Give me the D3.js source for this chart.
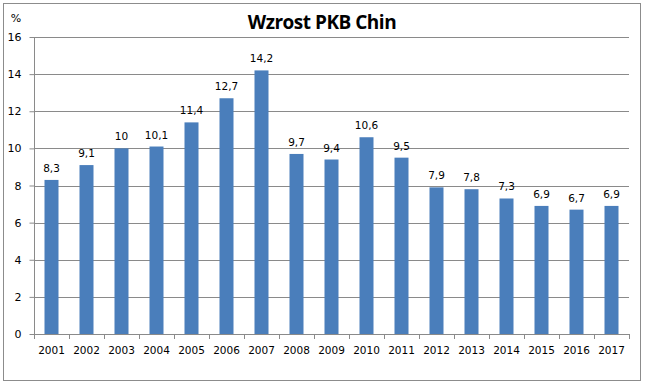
<!DOCTYPE html>
<html><head><meta charset="utf-8">
<script src="https://cdn.jsdelivr.net/npm/d3@7"></script>
<style>body{margin:0;background:#fff}</style>
</head><body>
<svg id="c" width="645" height="384"></svg>
<script>
const years = ["2001","2002","2003","2004","2005","2006","2007","2008","2009","2010","2011","2012","2013","2014","2015","2016","2017"];
const values = [8.3,9.1,10,10.1,11.4,12.7,14.2,9.7,9.4,10.6,9.5,7.9,7.8,7.3,6.9,6.7,6.9];
const labels = ["8,3","9,1","10","10,1","11,4","12,7","14,2","9,7","9,4","10,6","9,5","7,9","7,8","7,3","6,9","6,7","6,9"];
const yTicks = [0,2,4,6,8,10,12,14,16];
const title = "Wzrost PKB Chin";
const unit = "%";

const svg = d3.select("#c");
svg.append("rect").attr("x",3.5).attr("y",3.5).attr("width",637).attr("height",377)
  .attr("fill","#fff").attr("stroke","#8c8c8c").attr("stroke-width",1);

const L=34, R=629, T=37, B=334;
const x = d3.scaleBand().domain(years).range([L,R]).paddingInner(0.6).paddingOuter(0.3);
const xb = d3.scaleBand().domain(years).range([L,R]);
const y = d3.scaleLinear().domain([0,16]).range([B,T]);

// gridlines
svg.append("g").selectAll("line").data(yTicks.filter(d=>d>0)).join("line")
  .attr("x1",L).attr("x2",R).attr("y1",d=>Math.round(y(d))+0.5).attr("y2",d=>Math.round(y(d))+0.5)
  .attr("stroke","#8a8a8a").attr("stroke-width",1);

// y axis
const ya = svg.append("g").attr("transform",`translate(${L+0.5},0)`)
  .call(d3.axisLeft(y).tickValues(yTicks).tickSize(5).tickPadding(8).tickFormat(d=>d));
ya.select(".domain").attr("stroke","#8a8a8a").attr("d",`M0,${T}V${B}`);
ya.selectAll(".tick line").attr("stroke","#8a8a8a");
ya.selectAll("text").attr("font-family","DejaVu Sans").attr("font-size",11).attr("fill","#000");

// bars
svg.append("g").selectAll("rect").data(values).join("rect")
  .attr("x",(d,i)=>x(years[i])).attr("width",x.bandwidth())
  .attr("y",d=>y(d)).attr("height",d=>B-y(d)).attr("fill","#4a7ebb");

// x axis
const xa = svg.append("g").attr("transform",`translate(0,${B+0.5})`)
  .call(d3.axisBottom(xb).tickSize(0).tickPadding(12));
xa.select(".domain").attr("stroke","#8a8a8a").attr("d",`M${L},0H${R}`);
xa.selectAll("text").attr("font-family","DejaVu Sans").attr("font-size",10.5).attr("fill","#000");
svg.append("g").selectAll("line").data(d3.range(years.length+1)).join("line")
  .attr("x1",i=>Math.round(L+i*xb.step())+0.5).attr("x2",i=>Math.round(L+i*xb.step())+0.5)
  .attr("y1",B).attr("y2",B+5).attr("stroke","#8a8a8a");

// value labels
svg.append("g").selectAll("text").data(values).join("text")
  .attr("x",(d,i)=>x(years[i])+x.bandwidth()/2).attr("y",d=>y(d)-8)
  .attr("text-anchor","middle").attr("font-family","DejaVu Sans").attr("font-size",10.5)
  .text((d,i)=>labels[i]);

svg.append("text").attr("x",322).attr("y",29).attr("text-anchor","middle")
  .attr("font-family","Open Sans").attr("font-weight","bold").attr("font-size",19)
  .attr("letter-spacing",-0.5).text(title);
svg.append("text").attr("x",16).attr("y",22).attr("text-anchor","middle")
  .attr("font-family","DejaVu Sans").attr("font-size",11).text(unit);
</script>
</body></html>
